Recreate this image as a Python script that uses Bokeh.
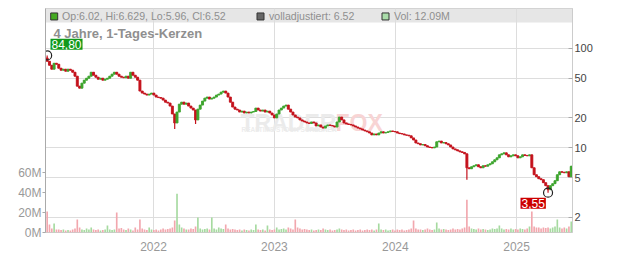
import numpy as np
import pandas as pd
from bokeh.plotting import figure
from bokeh.models import (Range1d, LinearAxis, FixedTicker, DatetimeTickFormatter,
                          BoxAnnotation, Label, NumeralTickFormatter, LinearScale)
from bokeh.embed import file_html
from bokeh.resources import INLINE

# ---------------- data (weekly candles) ----------------
week_start = "2021-02-14"
first_open = 80.0
closes = [
    74.1, 67.6, 61.7, 70.8, 69.2, 63.1, 60.3, 61.7, 58.9, 61.7,
    60.3, 57.5, 52.5, 41.7, 39.8, 44.7, 47.9, 50.1, 52.5, 57.5,
    53.7, 51.3, 49.0, 50.1, 47.9, 49.0, 50.1, 52.5, 55.0, 57.5,
    55.0, 52.5, 51.3, 50.6, 52.5, 50.1, 57.5, 53.7, 51.3, 47.9,
    37.2, 35.5, 34.7, 33.9, 34.7, 35.5, 33.9, 32.4, 32.0, 31.6,
    30.2, 28.8, 28.2, 26.3, 21.9, 17.8, 22.9, 27.5, 28.8, 27.5,
    28.2, 26.3, 25.1, 24.0, 19.1, 24.5, 26.9, 29.5, 31.6, 32.4,
    30.9, 31.6, 32.4, 33.9, 34.7, 36.3, 37.2, 35.5, 32.4, 28.8,
    25.7, 24.5, 24.0, 22.9, 23.4, 22.4, 22.9, 22.4, 22.9, 23.2,
    25.1, 24.0, 23.4, 24.0, 22.9, 23.4, 22.4, 21.4, 20.0, 21.9,
    24.0, 25.1, 26.3, 26.9, 24.5, 22.9, 21.4, 20.4, 20.0, 19.1,
    18.6, 18.2, 17.8, 17.6, 18.2, 17.8, 16.6, 17.0, 16.2, 15.8,
    16.6, 17.0, 16.8, 16.6, 16.2, 18.2, 20.4, 19.1, 17.8, 17.4,
    17.2, 17.0, 16.6, 16.2, 15.8, 15.5, 15.1, 14.8, 14.5, 14.1,
    13.5, 13.8, 13.5, 14.1, 14.5, 14.1, 14.3, 14.5, 14.8, 14.6,
    14.5, 14.1, 13.9, 13.8, 13.5, 13.4, 13.2, 12.6, 12.0, 11.2,
    11.0, 10.7, 10.8, 10.5, 10.2, 10.1, 10.0, 10.2, 11.5, 11.7,
    11.2, 11.3, 11.0, 10.7, 10.2, 9.77, 9.55, 9.33, 9.12, 9.0,
    8.71, 6.31, 6.17, 6.46, 6.61, 6.76, 6.46, 6.31, 6.61, 6.55,
    6.76, 6.92, 7.24, 7.59, 7.94, 8.51, 8.71, 8.91, 8.51, 8.13,
    8.32, 8.51, 8.32, 7.94, 8.13, 8.51, 8.4, 8.32, 8.51, 6.31,
    5.37, 5.13, 4.90, 4.79, 4.47, 4.17, 3.80, 4.17, 4.37, 4.68,
    5.37, 5.75, 5.7, 5.62, 5.75, 5.13, 6.52,
]
high_marks = {0: 84.80, 226: 6.629}
low_marks = {55: 15.5, 64: 17.4, 181: 4.79, 216: 3.55}
volumes = [  # millions
    21, 8, 4, 9, 3, 3, 2.5, 3, 2, 2.5, 2, 3, 4, 13, 5, 3, 2.5, 4, 3, 5, 3,
    2.5, 3, 2, 2.5, 3, 7, 3, 2.5, 3, 20, 4, 4.5, 3, 2.5, 4, 3, 2, 5, 3, 13,
    4, 3, 2.5, 5, 3, 2.5, 3, 2, 3, 4, 3, 3.5, 4, 5, 12, 39, 8, 5, 4, 3,
    3, 4, 3.5, 6, 15, 4, 3, 3.5, 4, 3, 15, 4, 3, 5, 4, 3.5, 8, 4, 3, 3.5,
    3, 2.5, 3, 2, 3, 2.5, 2, 3, 2.5, 8, 3, 2.5, 3, 2, 7, 3, 2.5, 3, 5, 3,
    3.5, 4, 3, 5, 4, 3, 13, 5, 4, 3, 3.5, 3, 2.5, 3, 2, 2.5, 3, 2.5, 4, 3,
    2.5, 3, 2, 2.5, 3, 4, 3, 2.5, 3, 2, 2.5, 3, 2, 2.5, 3, 2, 2.5, 3, 2.5, 3,
    2, 3, 9, 3, 2.5, 3, 2, 2.5, 3, 2, 3, 2.5, 3, 2, 2.5, 3, 4, 12, 4, 3,
    3, 2.5, 3, 4, 3, 2.5, 3, 10, 4, 3, 3.5, 3, 2.5, 3, 4, 3, 3.5, 3, 4, 5,
    33, 6, 4, 3.5, 3, 4, 3, 3.5, 3, 2.5, 3, 4, 3.5, 4, 7, 4, 3, 3.5, 3, 4,
    3, 3.5, 3, 4, 3.5, 3, 4, 6, 21, 6, 5, 5, 4, 5, 4.5, 5, 4, 5, 6, 13, 5, 4, 5, 4, 6, 11,
]
year_ticks = ["2022-01-01", "2023-01-01", "2024-01-01", "2025-01-01"]
price_ticks = [2, 5, 10, 20, 50, 100]
vol_ticks = [0, 20, 40, 60]
vol_labels = ["0M", "20M", "40M", "60M"]
header_ohlc = "Op:6.02, Hi:6.629, Lo:5.96, Cl:6.52"
header_adj = "volladjustiert: 6.52"
header_vol = "Vol: 12.09M"
title_text = "4 Jahre, 1-Tages-Kerzen"

# ---------------- derived ----------------
n = min(len(closes), len(volumes))
closes = closes[:n]
volumes = volumes[:n]
dates = list(pd.date_range(week_start, periods=n, freq="7D"))
opens = [first_open] + closes[:-1]
highs = [high_marks.get(i, max(opens[i], closes[i])) for i in range(n)]
lows = [low_marks.get(i, min(opens[i], closes[i])) for i in range(n)]
up = [closes[i] >= opens[i] for i in range(n)]
GREEN, RED = "#3da52e", "#c4121c"
ccol = [GREEN if u else RED for u in up]
vcol = ["#a6daa0" if u else "#f2a7ae" for u in up]
body_top = [max(o, c) for o, c in zip(opens, closes)]
body_bot = [min(o, c) for o, c in zip(opens, closes)]

DAY = 86400000.0
X0 = pd.Timestamp("2021-02-09").value / 1e6
PXD = 121 / 365.25          # pixels per day
FRAME_W, FRAME_H = 527, 225
X1 = X0 + FRAME_W / PXD * DAY
Y_TOP_LOG, Y_BOT_LOG = 2.4, 0.15

def xpx(px):
    return X0 + (px - 45) / PXD * DAY

def ypx(py):
    return 10 ** (Y_TOP_LOG - (py - 8) / 100.0)

FONT = "Liberation Sans"

p = figure(width=632, height=253, x_axis_type="datetime", y_axis_type="log",
           y_axis_location="right",
           x_range=Range1d(X0, X1), y_range=Range1d(10 ** Y_BOT_LOG, 10 ** Y_TOP_LOG),
           output_backend="svg", toolbar_location=None,
           min_border_left=45, min_border_right=60, min_border_top=8, min_border_bottom=20)
p.extra_y_ranges = {"vol": Range1d(0, FRAME_H)}
p.extra_y_scales = {"vol": LinearScale()}
p.background_fill_color = "white"
p.border_fill_color = "white"
p.outline_line_color = "#cccccc"

# header band
p.add_layout(BoxAnnotation(bottom=ypx(22), fill_color="#e6e6e6", fill_alpha=1.0,
                           line_color=None, level="image"))

# axes
p.yaxis.ticker = FixedTicker(ticks=price_ticks)
p.yaxis.formatter = NumeralTickFormatter(format="0")
p.yaxis.major_tick_in = 4
p.yaxis.major_tick_out = 0
p.yaxis.major_label_standoff = 2
p.yaxis.axis_line_color = "#cccccc"
p.yaxis.major_tick_line_color = "#aaaaaa"
p.yaxis.minor_tick_line_color = None

year_ms = [pd.Timestamp(t).value / 1e6 for t in year_ticks]
p.xaxis.ticker = FixedTicker(ticks=year_ms)
p.xaxis.formatter = DatetimeTickFormatter(years="%Y", months="%Y", days="%Y",
                                          hours="%Y", hourmin="%Y", minutes="%Y")
p.xaxis.axis_line_color = None
p.xaxis.major_tick_line_color = None
p.xaxis.minor_tick_line_color = None
p.xaxis.major_label_standoff = 3

vax = LinearAxis(y_range_name="vol", ticker=FixedTicker(ticks=vol_ticks),
                 major_label_overrides={t: l for t, l in zip(vol_ticks, vol_labels)})
vax.major_tick_out = 3
vax.major_tick_in = 0
vax.major_label_standoff = 1
vax.axis_line_color = "#aaaaaa"
vax.major_tick_line_color = "#aaaaaa"
vax.minor_tick_line_color = None
p.add_layout(vax, "left")

for ax in [p.yaxis[0], p.xaxis[0], vax]:
    ax.major_label_text_font = FONT
    ax.major_label_text_font_size = "12px"
    ax.major_label_text_color = "#999999"

p.xgrid.grid_line_color = "#dddddd"
p.ygrid.grid_line_color = "#dddddd"

# watermark
p.add_layout(Label(x=xpx(240), y=ypx(123), text="TRADER", text_font=FONT,
                   text_font_size="23px", text_font_style="bold", text_color="#ebebeb",
                   text_baseline="alphabetic", level="underlay"))
p.add_layout(Label(x=xpx(335), y=ypx(123), text="FOX", text_font=FONT,
                   text_font_size="23px", text_font_style="bold", text_color="#f8d4d4",
                   text_baseline="alphabetic", level="underlay"))
p.add_layout(Label(x=xpx(241), y=ypx(130), text="REALTIME STOCK SCREENER", text_font=FONT,
                   text_font_size="6.5px", text_font_style="bold", text_color="#ececec",
                   text_baseline="middle", level="underlay"))

# volume bars
p.vbar(x=dates, width=5 * DAY, top=volumes, bottom=0, y_range_name="vol",
       fill_color=vcol, line_color=None)

# candles
p.segment(x0=dates, y0=lows, x1=dates, y1=highs, line_color=ccol, line_width=1.2)
p.vbar(x=dates, width=6 * DAY, top=body_top, bottom=body_bot,
       fill_color=ccol, line_color=ccol, line_width=0.9)

# extremes
imax = int(np.argmax(highs))
imin = int(np.argmin(lows))
p.scatter([dates[imax]], [highs[imax]], marker="circle", size=9, fill_color=None,
          line_color="#222222", line_width=1.2)
p.scatter([dates[imin]], [lows[imin]], marker="circle", size=9, fill_color=None,
          line_color="#222222", line_width=1.2)

def de(v):
    return f"{v:.2f}".replace(".", ",")

p.add_layout(Label(x=xpx(50), y=ypx(38.5), text=de(highs[imax]), text_font=FONT,
                   text_font_size="12px", text_color="white", text_align="left",
                   text_baseline="top", background_fill_color="#12991a", padding=1))
p.add_layout(Label(x=xpx(520), y=ypx(198), text=de(lows[imin]), text_font=FONT,
                   text_font_size="12px", text_color="white", text_align="left",
                   text_baseline="top", background_fill_color="#cc0000", padding=1))

# header legend
p.rect(x=[xpx(53.7), xpx(260), xpx(385)], y=[ypx(16)] * 3, width=7, height=7,
       width_units="screen", height_units="screen",
       fill_color=["#44aa22", "#666666", "#aaddaa"], line_color="#333333", line_width=1)
for px, txt in [(61.5, header_ohlc), (268.5, header_adj), (393.5, header_vol)]:
    p.add_layout(Label(x=xpx(px), y=ypx(16), text=txt, text_font=FONT,
                       text_font_size="10.6px", text_color="#8f8f8f",
                       text_baseline="middle", text_align="left"))

p.add_layout(Label(x=xpx(53), y=ypx(33.5), text=title_text, text_font=FONT,
                   text_font_size="13px", text_font_style="bold", text_color="#8f8f8f",
                   text_baseline="middle", text_align="left"))

open("out.html", "w").write(file_html(p, INLINE))
